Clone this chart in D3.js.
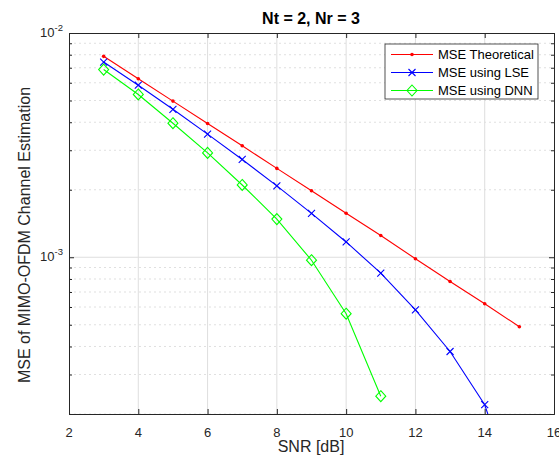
<!DOCTYPE html>
<html>
<head>
<meta charset="utf-8">
<script src="https://cdn.jsdelivr.net/npm/d3@7"></script>
<style>
  body { margin: 0; background: #fff; }
  text { font-family: "Liberation Sans", Arial, Helvetica, sans-serif; }
</style>
</head>
<body>
<div id="container"></div>
<script>
let w = 559;
let h = 461;

let snr = [3, 4, 5, 6, 7, 8, 9, 10, 11, 12, 13, 14, 15];
let mseTheory = [7.87e-3, 6.25e-3, 4.97e-3, 3.95e-3, 3.14e-3, 2.49e-3, 1.98e-3, 1.57e-3, 1.25e-3, 9.85e-4, 7.8e-4, 6.2e-4, 4.9e-4];
let mseLse = [7.42e-3, 5.85e-3, 4.57e-3, 3.54e-3, 2.73e-3, 2.08e-3, 1.57e-3, 1.17e-3, 8.5e-4, 5.82e-4, 3.8e-4, 2.2e-4, 7.6e-5];
let snrDnn = [3, 4, 5, 6, 7, 8, 9, 10, 11];
let mseDnn = [6.87e-3, 5.32e-3, 3.96e-3, 2.92e-3, 2.1e-3, 1.48e-3, 9.7e-4, 5.6e-4, 2.4e-4];

let xTicks = [2, 4, 6, 8, 10, 12, 14, 16];
let yDecades = [1e-3, 1e-2];
let yMinor = [2e-4, 3e-4, 4e-4, 5e-4, 6e-4, 7e-4, 8e-4, 9e-4, 2e-3, 3e-3, 4e-3, 5e-3, 6e-3, 7e-3, 8e-3, 9e-3];
let legendNames = ["MSE Theoretical", "MSE using LSE", "MSE using DNN"];

let pLeft = 69, pRight = 554, pTop = 33, pBottom = 414;

let x = d3.scaleLinear().domain([2, 16]).range([pLeft, pRight]);
let y = d3.scaleLog().domain([2e-4, 1e-2]).range([pBottom, pTop]);

let svg = d3.select('#container')
  .append('svg')
    .attr('width', w)
    .attr('height', h)
    .style('background-color', 'white')
;

svg.append('defs').append('clipPath').attr('id', 'clip')
  .append('rect')
    .attr('x', pLeft).attr('y', pTop)
    .attr('width', pRight - pLeft).attr('height', pBottom - pTop);

// grid
let grid = svg.append('g');
grid.selectAll('line.minor').data(yMinor).enter().append('line')
  .attr('x1', pLeft).attr('x2', pRight)
  .attr('y1', d => y(d)).attr('y2', d => y(d))
  .attr('stroke', '#d8d8d8').attr('stroke-width', 0.8)
  .attr('stroke-dasharray', '2,3');
grid.selectAll('line.vx').data(xTicks.slice(1, -1)).enter().append('line')
  .attr('x1', d => x(d)).attr('x2', d => x(d))
  .attr('y1', pTop).attr('y2', pBottom)
  .attr('stroke', '#dedede').attr('stroke-width', 1);
grid.selectAll('line.hy').data([1e-3]).enter().append('line')
  .attr('x1', pLeft).attr('x2', pRight)
  .attr('y1', d => y(d)).attr('y2', d => y(d))
  .attr('stroke', '#dedede').attr('stroke-width', 1);

// axes
let tickCol = '#262626';
let xAxisB = d3.axisBottom(x).tickValues(xTicks).tickSize(-5).tickFormat('');
let xAxisT = d3.axisTop(x).tickValues(xTicks).tickSize(-5).tickFormat('');
let yAxisL = d3.axisLeft(y).tickValues(yDecades.concat(yMinor)).tickSize(-5).tickFormat('');
let yAxisR = d3.axisRight(y).tickValues(yDecades.concat(yMinor)).tickSize(-5).tickFormat('');

function styleAxis(g) {
  g.select('.domain').attr('stroke', tickCol);
  g.selectAll('.tick line').attr('stroke', tickCol);
}
svg.append('g').attr('transform', 'translate(0,' + pBottom + ')').call(xAxisB).call(styleAxis);
svg.append('g').attr('transform', 'translate(0,' + pTop + ')').call(xAxisT).call(styleAxis);
svg.append('g').attr('transform', 'translate(' + pLeft + ',0)').call(yAxisL).call(styleAxis);
svg.append('g').attr('transform', 'translate(' + pRight + ',0)').call(yAxisR).call(styleAxis);
// shorter minor ticks on y
svg.selectAll('.tick').filter(d => yMinor.indexOf(d) >= 0).select('line')
  .attr('x2', function() { return +d3.select(this).attr('x2') * 0.6; });

// x tick labels
svg.append('g').selectAll('text').data(xTicks).enter().append('text')
  .attr('x', d => x(d)).attr('y', 437)
  .attr('text-anchor', 'middle')
  .attr('font-size', '13px').attr('fill', tickCol)
  .text(d => d);

// y tick labels with exponent
let yl = svg.append('g').selectAll('text').data(yDecades).enter().append('text')
  .attr('x', pLeft - 6).attr('y', d => y(d) + 4)
  .attr('text-anchor', 'end')
  .attr('font-size', '13px').attr('fill', tickCol);
yl.append('tspan').text('10');
yl.append('tspan').attr('dy', -6).attr('font-size', '9.5px').text(d => Math.round(Math.log10(d)));

// lines
let plot = svg.append('g').attr('clip-path', 'url(#clip)');
let line = d3.line().x(d => x(d[0])).y(d => y(d[1]));

let series = [
  { pts: snr.map((s, i) => [s, mseTheory[i]]), color: '#ff0000', marker: 'dot' },
  { pts: snr.map((s, i) => [s, mseLse[i]]), color: '#0000ff', marker: 'x' },
  { pts: snrDnn.map((s, i) => [s, mseDnn[i]]), color: '#00ff00', marker: 'diamond' }
];

function drawMarker(g, type, color) {
  if (type == 'dot') {
    g.append('circle').attr('r', 1.8).attr('fill', color);
  } else if (type == 'x') {
    g.append('path').attr('d', 'M-3.5,-3.5L3.5,3.5M-3.5,3.5L3.5,-3.5')
      .attr('stroke', color).attr('stroke-width', 1.1).attr('fill', 'none');
  } else {
    g.append('path').attr('d', 'M0,-5.5L5,0L0,5.5L-5,0Z')
      .attr('stroke', color).attr('stroke-width', 1.1).attr('fill', 'none');
  }
}

series.forEach(function(s) {
  plot.append('path').datum(s.pts)
    .attr('d', line)
    .attr('fill', 'none')
    .attr('stroke', s.color)
    .attr('stroke-width', 1.1);
  plot.selectAll(null).data(s.pts).enter().append('g')
    .attr('transform', d => 'translate(' + x(d[0]) + ',' + y(d[1]) + ')')
    .each(function() { drawMarker(d3.select(this), s.marker, s.color); });
});

// title and labels
svg.append('text')
  .attr('x', 311).attr('y', 24)
  .attr('text-anchor', 'middle')
  .attr('font-size', '16px').attr('font-weight', 'bold').attr('fill', '#000')
  .text('Nt = 2, Nr = 3');

svg.append('text')
  .attr('x', 311).attr('y', 452)
  .attr('text-anchor', 'middle')
  .attr('font-size', '16px').attr('fill', tickCol)
  .text('SNR [dB]');

svg.append('text')
  .attr('transform', 'translate(30,235) rotate(-90)')
  .attr('text-anchor', 'middle')
  .attr('font-size', '16px').attr('fill', tickCol)
  .text('MSE of MIMO-OFDM Channel Estimation');

// legend
let lg = svg.append('g').attr('transform', 'translate(385,44)');
lg.append('rect').attr('width', 153).attr('height', 55)
  .attr('fill', 'white').attr('stroke', tickCol).attr('stroke-width', 0.8);
series.forEach(function(s, i) {
  let yy = 10.5 + i * 18;
  lg.append('line').attr('x1', 6).attr('x2', 48).attr('y1', yy).attr('y2', yy)
    .attr('stroke', s.color).attr('stroke-width', 1.1);
  let m = lg.append('g').attr('transform', 'translate(27,' + yy + ')');
  drawMarker(m, s.marker, s.color);
  lg.append('text').attr('x', 53).attr('y', yy + 4.5)
    .attr('font-size', '13px').attr('fill', '#000')
    .text(legendNames[i]);
});
</script>
</body>
</html>
